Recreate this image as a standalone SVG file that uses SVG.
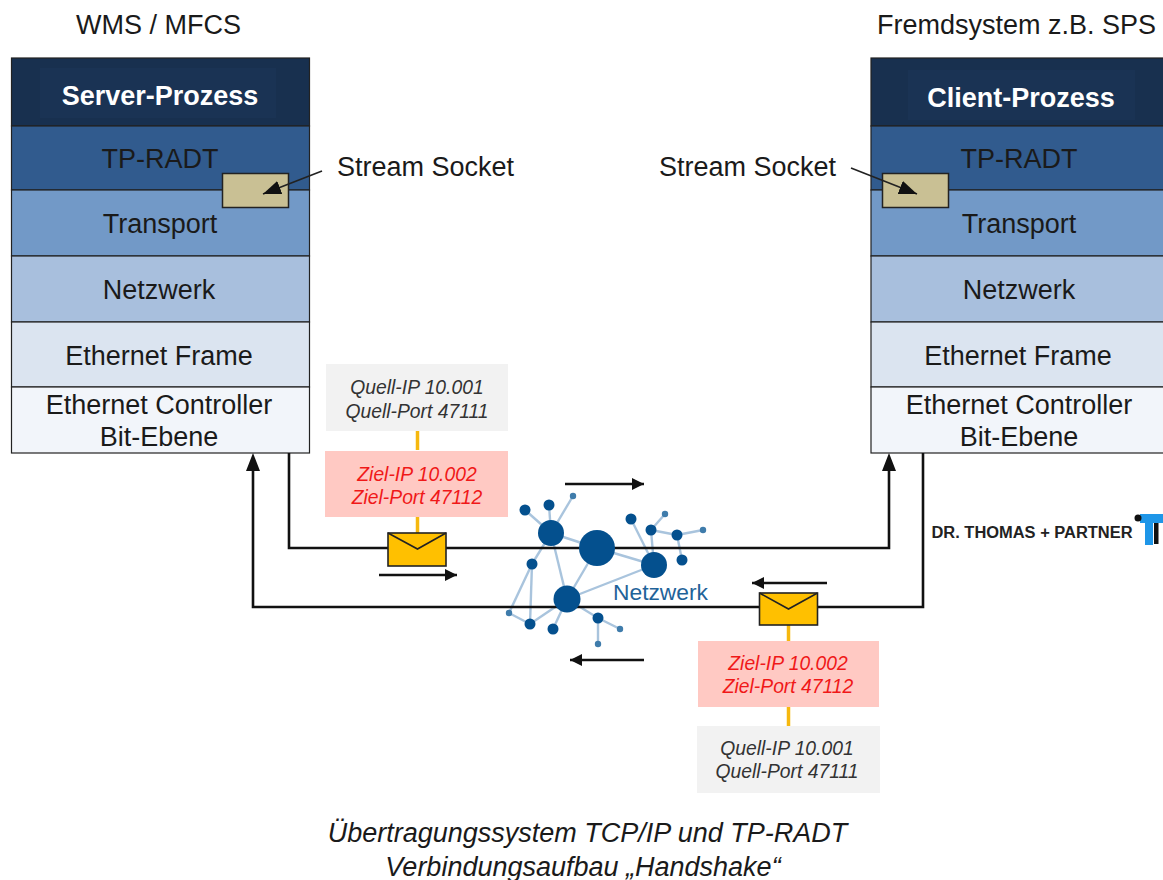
<svg xmlns="http://www.w3.org/2000/svg" width="1163" height="880" viewBox="0 0 1163 880">
<style>
text{font-family:"Liberation Sans",Arial,sans-serif;text-anchor:middle;fill:#1a1a1a}
.t{font-size:27px}
.h{font-size:27px;font-weight:bold;fill:#fff}
.i{font-size:19.300px;font-style:italic;fill:#333}
.r{font-size:19.300px;font-style:italic;fill:#f01818}
.c{font-size:27px;font-style:italic}
.b{stroke:#222;stroke-width:1.2}
.w{fill:none;stroke:#111;stroke-width:2.6}
.y{stroke:#f6b80e;stroke-width:3.5}
.sock{fill:#c9c094;stroke:#222;stroke-width:1.5}
.env{fill:#ffc000;stroke:#222;stroke-width:1.6}
.fl{fill:none;stroke:#222;stroke-width:1.6}
.a{stroke:#111;stroke-width:2.4;fill:none}
.l{stroke:#a9c4dd;stroke-width:2.4}
.n{fill:#04508e}
.m{fill:#3f7cab}
</style>
<defs>
<marker id="ah" markerUnits="userSpaceOnUse" markerWidth="14" markerHeight="14" refX="12" refY="6" orient="auto"><path d="M0 0L12 6L0 12Z" fill="#111"/></marker>
<marker id="as" markerUnits="userSpaceOnUse" markerWidth="20" markerHeight="16" refX="18" refY="7" orient="auto"><path d="M0 0L18 7L0 14Z" fill="#111"/></marker>
</defs>
<text class="t" x="158.500" y="33.500">WMS / MFCS</text>
<text class="t" x="1016.500" y="33.500">Fremdsystem z.B. SPS</text>

<g id="left-stack">
<rect class="b" x="11.500" y="58" width="298" height="68" fill="#18304f"/>
<rect x="40" y="68" width="236" height="50" fill="#1a3354"/>
<rect class="b" x="11.500" y="126" width="298" height="64" fill="#315b8e"/>
<rect class="b" x="11.500" y="190" width="298" height="66" fill="#7299c7"/>
<rect class="b" x="11.500" y="256" width="298" height="66" fill="#a8bfdd"/>
<rect class="b" x="11.500" y="322" width="298" height="65" fill="#dbe4f0"/>
<rect class="b" x="11.500" y="387" width="298" height="66" fill="#f2f5fa"/>
<text class="h" x="160" y="104.500">Server-Prozess</text>
<text class="t" x="160" y="167.500">TP-RADT</text>
<text class="t" x="160" y="232.500">Transport</text>
<text class="t" x="159" y="298.500">Netzwerk</text>
<text class="t" x="159" y="364.500">Ethernet Frame</text>
<text class="t" x="159" y="413.500">Ethernet Controller</text>
<text class="t" x="159" y="445.500">Bit-Ebene</text>
<rect class="sock" x="222.500" y="173.500" width="66" height="34"/>
</g>

<g id="right-stack">
<rect class="b" x="871" y="58" width="298" height="68" fill="#18304f"/>
<rect x="908" y="70" width="227" height="50" fill="#1a3354"/>
<rect class="b" x="871" y="126" width="298" height="64" fill="#315b8e"/>
<rect class="b" x="871" y="190" width="298" height="66" fill="#7299c7"/>
<rect class="b" x="871" y="256" width="298" height="66" fill="#a8bfdd"/>
<rect class="b" x="871" y="322" width="298" height="65" fill="#dbe4f0"/>
<rect class="b" x="871" y="387" width="298" height="66" fill="#f2f5fa"/>
<text class="h" x="1021" y="106.500">Client-Prozess</text>
<text class="t" x="1019" y="167.500">TP-RADT</text>
<text class="t" x="1019" y="232.500">Transport</text>
<text class="t" x="1019" y="298.500">Netzwerk</text>
<text class="t" x="1018" y="364.500">Ethernet Frame</text>
<text class="t" x="1019" y="413.500">Ethernet Controller</text>
<text class="t" x="1019" y="445.500">Bit-Ebene</text>
<rect class="sock" x="882.500" y="173.500" width="66" height="34"/>
</g>

<g id="socket-labels">
<text class="t" x="425.500" y="175.500">Stream Socket</text>
<text class="t" x="747.500" y="175.500">Stream Socket</text>
</g>

<g id="network">
<g class="l">
<line x1="551" y1="533" x2="525" y2="510"/><line x1="551" y1="533" x2="549" y2="505"/><line x1="551" y1="533" x2="573" y2="496"/>
<line x1="551" y1="533" x2="597" y2="548"/><line x1="551" y1="533" x2="567" y2="599"/><line x1="551" y1="533" x2="532" y2="564"/>
<line x1="597" y1="548" x2="654" y2="565"/><line x1="597" y1="548" x2="567" y2="599"/><line x1="654" y1="565" x2="567" y2="599"/>
<line x1="654" y1="565" x2="631" y2="519"/><line x1="654" y1="565" x2="651" y2="530"/><line x1="651" y1="530" x2="665" y2="514"/>
<line x1="651" y1="530" x2="677" y2="535"/><line x1="677" y1="535" x2="703" y2="530"/><line x1="677" y1="535" x2="682" y2="560"/>
<line x1="532" y1="564" x2="509" y2="613"/><line x1="532" y1="564" x2="530" y2="624"/><line x1="509" y1="613" x2="530" y2="624"/>
<line x1="530" y1="624" x2="567" y2="599"/><line x1="553" y1="629" x2="567" y2="599"/><line x1="567" y1="599" x2="598" y2="618"/>
<line x1="598" y1="618" x2="620" y2="629"/><line x1="598" y1="618" x2="598" y2="644"/>
</g>
</g>

<g id="connectors">
<path class="w" d="M289 453V548H889V464"/>
<path class="w" d="M923 453V607H253V464"/>
<path d="M889 453L882 471H896Z M253 453L246 471H260Z" fill="#111"/>
<line class="a" x1="565" y1="484" x2="644" y2="484" marker-end="url(#ah)"/>
<line class="a" x1="379" y1="575" x2="457" y2="575" marker-end="url(#ah)"/>
<line class="a" x1="827" y1="583" x2="752" y2="583" marker-end="url(#ah)"/>
<line class="a" x1="644" y1="660" x2="570" y2="660" marker-end="url(#ah)"/>
<line stroke="#222" stroke-width="1.600" x1="322" y1="171" x2="263" y2="194" marker-end="url(#as)"/>
<line stroke="#222" stroke-width="1.600" x1="851" y1="168" x2="917" y2="194" marker-end="url(#as)"/>
<line class="y" x1="417.500" y1="431" x2="417.500" y2="450"/>
<line class="y" x1="417.500" y1="517" x2="417.500" y2="533"/>
<line class="y" x1="788.500" y1="625" x2="788.500" y2="641"/>
<line class="y" x1="788.500" y1="707" x2="788.500" y2="726"/>
</g>

<g id="network-nodes">
<circle class="n" cx="597" cy="548" r="18"/><circle class="n" cx="551" cy="533" r="13"/><circle class="n" cx="654" cy="565" r="13"/><circle class="n" cx="567" cy="599" r="13.500"/>
<g class="n">
<circle cx="525" cy="510" r="5.500"/><circle cx="549" cy="505" r="5.500"/><circle cx="532" cy="564" r="5.500"/><circle cx="530" cy="624" r="5.500"/><circle cx="553" cy="629" r="5.500"/><circle cx="598" cy="618" r="5.500"/><circle cx="631" cy="519" r="5.500"/><circle cx="651" cy="530" r="5.500"/><circle cx="677" cy="535" r="5.500"/><circle cx="682" cy="560" r="5.500"/>
</g>
<g class="m">
<circle cx="573" cy="496" r="3.200"/><circle cx="509" cy="613" r="3.200"/><circle cx="620" cy="629" r="3.200"/><circle cx="598" cy="644" r="3.200"/><circle cx="665" cy="514" r="3.200"/><circle cx="703" cy="530" r="3.200"/>
</g>
<text x="660.500" y="599.500" style="font-size:22.800px;fill:#1f6399">Netzwerk</text>
</g>

<g id="envelope-left">
<rect class="env" x="388" y="533" width="58" height="33"/>
<path class="fl" d="M388 533L417.500 549L446 533"/>
</g>
<g id="envelope-right">
<rect class="env" x="759.500" y="593" width="58" height="32"/>
<path class="fl" d="M759.500 593L788.500 609L817.500 593"/>
</g>

<g id="packet-left">
<rect x="326" y="364" width="182" height="67" fill="#f2f2f2"/>
<text class="i" x="417" y="393.500">Quell-IP 10.001</text>
<text class="i" x="417" y="417.500">Quell-Port 47111</text>
<rect x="325" y="451" width="183" height="66" fill="#ffc9c3"/>
<text class="r" x="417" y="480.500">Ziel-IP 10.002</text>
<text class="r" x="417" y="503.500">Ziel-Port 47112</text>
</g>
<g id="packet-right">
<rect x="698" y="641" width="181" height="66" fill="#ffc9c3"/>
<text class="r" x="788" y="669.500">Ziel-IP 10.002</text>
<text class="r" x="788" y="692.500">Ziel-Port 47112</text>
<rect x="697" y="726" width="183" height="67" fill="#f2f2f2"/>
<text class="i" x="787" y="754.500">Quell-IP 10.001</text>
<text class="i" x="787" y="777.500">Quell-Port 47111</text>
</g>

<g id="logo">
<text x="1032" y="538" style="font-size:16px;font-weight:bold;fill:#222" textLength="201" lengthAdjust="spacingAndGlyphs">DR. THOMAS + PARTNER</text>
<path d="M1140 514H1163V523H1153V545H1145V523H1140Z" fill="#1e96e8"/>
<rect x="1154" y="523" width="4.500" height="21" fill="#111"/>
<circle cx="1138" cy="518" r="3.500" fill="#111"/>
</g>

<g id="caption">
<text class="c" x="587.500" y="842">Übertragungssystem TCP/IP und TP-RADT</text>
<text class="c" x="583" y="875.500">Verbindungsaufbau „Handshake“</text>
</g>
</svg>
